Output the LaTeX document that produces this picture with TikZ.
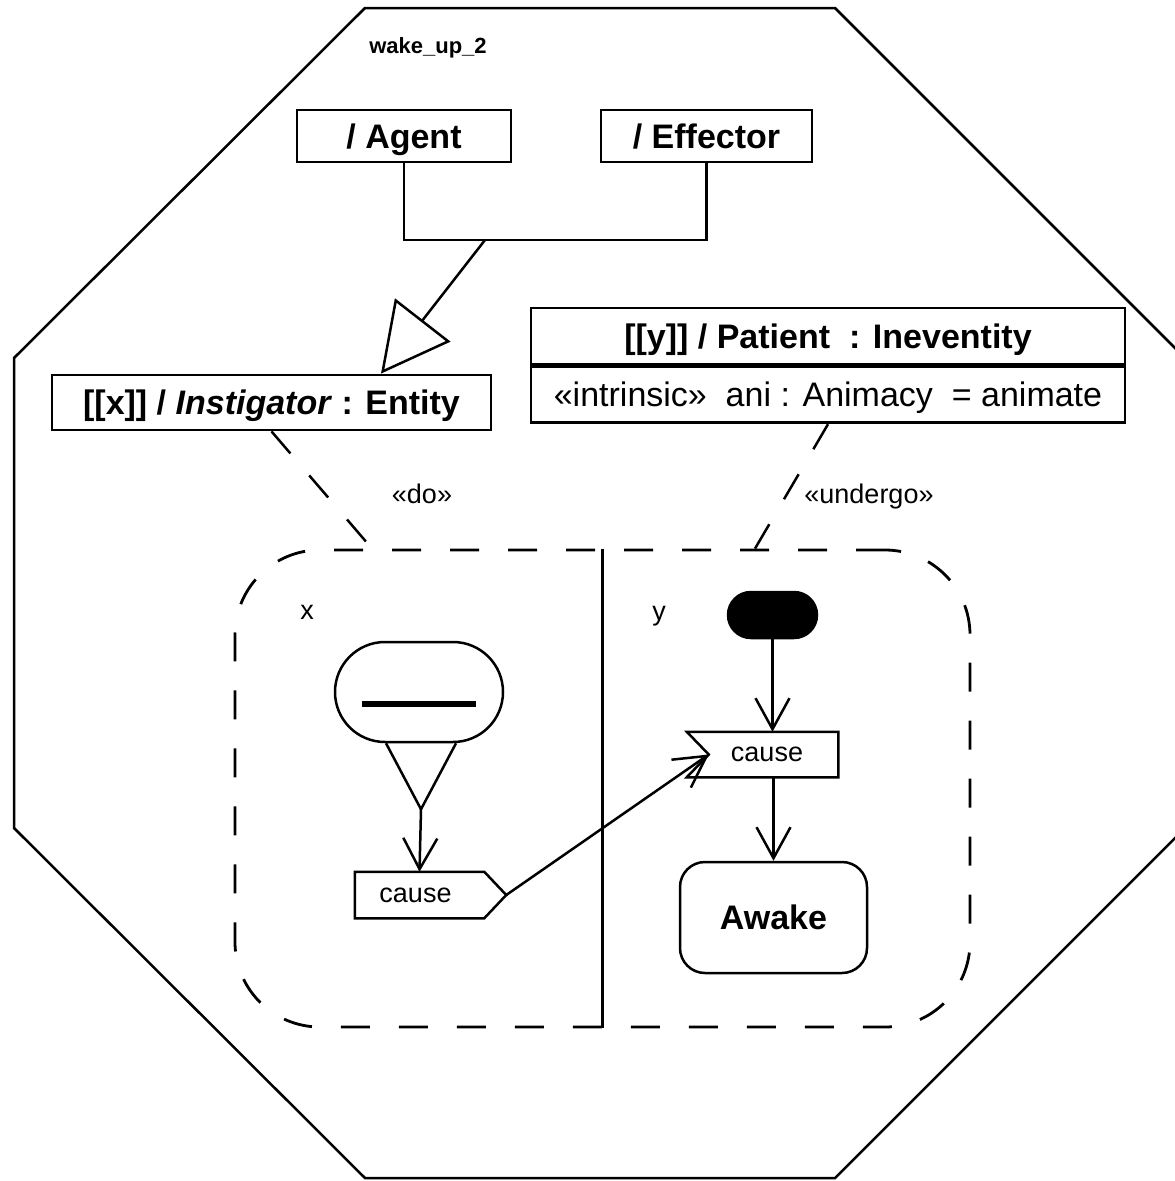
\documentclass[tikz,border=0pt]{standalone}
\usepackage{fontspec}
\setmainfont{Liberation Sans}
\usetikzlibrary{arrows.meta,calc}
\newcommand\fbig{\fontsize{34}{40}\selectfont}
\newcommand\fsmall{\fontsize{27}{32}\selectfont}
\newcommand\ftitle{\fontsize{22}{26}\selectfont\bfseries}
\tikzset{
  every picture/.style={line width=2.5pt},
  cls/.style={draw, line width=2.8pt, inner sep=0pt, text height=24pt, text depth=0pt, font=\fbig\bfseries},
  attr/.style={cls, font=\fbig},
  region/.style={draw, dash pattern=on 29pt off 29pt, line width=2.8pt, rounded corners=85pt},
  dep/.style={dash pattern=on 29pt off 29pt, line width=2.5pt},
  flow/.style={-{Straight Barb[length=31pt,width=34pt]}, line width=2.5pt},
  gen/.style={-{Triangle[open,length=68pt,width=70pt]}, line width=2.5pt},
  stereo/.style={font=\fsmall, inner sep=0pt, text height=14pt, text depth=0pt},
  sigbox/.style={stereo},
  state/.style={draw, rounded corners=25pt, line width=2.5pt, font=\fbig\bfseries, inner sep=0pt, text height=24pt, text depth=0pt},
}

\begin{document}
\begin{tikzpicture}[x=1pt, y=-1pt]
  % wake_up_2 frame: the roles on top, the two-lane activity below
  \useasboundingbox (0,0) rectangle (1175,1181);
  \clip (0,0) rectangle (1175,1181);
  \draw (365,8) -- (835,8) -- (1185,358) -- (1185,828) -- (835,1178) -- (365,1178) -- (14,828) -- (14,358) -- cycle;
  \node[font=\ftitle] (title) at (428,48) {wake\_up\_2};
  \node[cls, minimum width=214pt, minimum height=52pt] (agent) at (404,136) {/ Agent};
  \node[cls, minimum width=211pt, minimum height=52pt] (eff) at (706.5,136) {/ Effector};
  \node[cls, minimum width=439pt, minimum height=55pt] (inst) at (271.5,402.5) {[[x]] / \textit{Instigator} : Entity};
  \node[cls, minimum width=594pt, minimum height=56pt] (pat) at (828,336) {[[y]] / Patient~~: Ineventity};
  \node[attr, minimum width=594pt, minimum height=56pt, anchor=north] (patattr) at (pat.south) {«intrinsic»~~ani : Animacy~~= animate};
  \coordinate (gjoin) at (485,240);
  \draw (agent.south) |- (gjoin) -| (eff.south);
  \draw[gen] (gjoin) -- ($(inst.north)+(109.5,0)$);
  \node[region, minimum width=735pt, minimum height=477pt] (act) at (602.5,788.5) {};
  \draw (act.north) -- (act.south);
  \draw[dep] (inst.south) -- ($(act.north)+(-230.5,0)$);
  \draw[dep] (patattr.south) -- ($(act.north)+(152.5,0)$);
  \node[stereo] (do) at (422,496) {«do»};
  \node[stereo] (undergo) at (869,496) {«undergo»};
  \node[stereo] (lanex) at (307,612) {x};
  \node[stereo] (laney) at (659,613) {y};
  % lane x
  \node[draw, rounded corners=50pt, minimum width=168pt, minimum height=100pt] (val) at (419,692) {};
  \draw[line width=6pt] ($(val.center)+(-57,12)$) -- ($(val.center)+(57,12)$);
  \draw ($(val.south)+(-33,0)$) -- ++(35,66) coordinate (vtip) -- ++(35,-66);
  \node[sigbox, minimum width=127pt, minimum height=44pt] (send) at (419.5,895) {cause\hspace*{8pt}};
  \draw (send.north west) -- (send.north east) -- ($(send.east)+(22,0)$) coordinate (sendtip) -- (send.south east) -- (send.south west) -- cycle;
  \draw[flow] (vtip) -- (send.north);
  % lane y
  \node[draw, fill=black, rounded corners=23pt, minimum width=89pt, minimum height=46pt] (init) at (772.5,615) {};
  \node[sigbox, minimum width=149pt, minimum height=43pt] (acc) at (762.5,754.5) {\hspace*{9pt}cause};
  \draw (acc.north west) -- (acc.north east) -- (acc.south east) -- (acc.south west) -- ($(acc.west)+(22,0)$) coordinate (accnotch) -- cycle;
  \node[state, minimum width=187pt, minimum height=111pt] (awake) at (773.5,917.5) {Awake};
  \draw[flow] (init.south) -- (init.south |- acc.north);
  \draw[flow] (awake.north |- acc.south) -- (awake.north);
  \draw[flow] (sendtip) -- (accnotch);
\end{tikzpicture}
\end{document}
